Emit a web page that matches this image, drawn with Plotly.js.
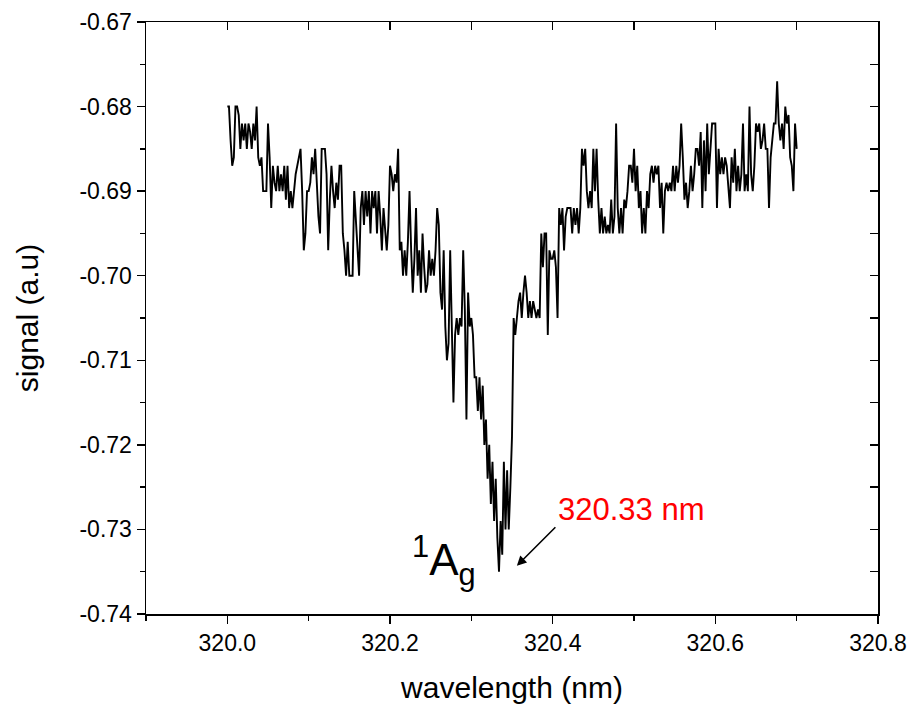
<!DOCTYPE html>
<html>
<head>
<meta charset="utf-8">
<script src="https://cdn.plot.ly/plotly-3.0.1.min.js"></script>
<style>html,body{margin:0;padding:0;background:#fff;}#chart{width:912px;height:706px;}</style>
</head>
<body>
<div id="chart"></div>
<script>
// wavelength grid (nm): start and step of the recorded scan
const wavelengthStart = 320.0;
const wavelengthStep = 0.002;

// signal (a.u.), one value per grid point
const signal = [
  -0.680, -0.680, -0.684, -0.687, -0.686, -0.680, -0.680, -0.681, -0.685, -0.682,
  -0.684, -0.682, -0.685, -0.682, -0.683, -0.685, -0.682, -0.684, -0.680, -0.686,
  -0.687, -0.686, -0.690, -0.690, -0.690, -0.682, -0.686, -0.692, -0.687, -0.689,
  -0.690, -0.687, -0.690, -0.688, -0.690, -0.687, -0.691, -0.687, -0.692, -0.690,
  -0.692, -0.690, -0.688, -0.687, -0.686, -0.685, -0.690, -0.697, -0.695, -0.690,
  -0.690, -0.689, -0.686, -0.688, -0.685, -0.690, -0.693, -0.695, -0.685, -0.685,
  -0.685, -0.688, -0.697, -0.691, -0.687, -0.690, -0.692, -0.689, -0.691, -0.687,
  -0.687, -0.695, -0.697, -0.700, -0.696, -0.700, -0.700, -0.700, -0.690, -0.693,
  -0.697, -0.700, -0.692, -0.690, -0.694, -0.690, -0.693, -0.690, -0.695, -0.690,
  -0.692, -0.690, -0.695, -0.690, -0.693, -0.697, -0.692, -0.695, -0.697, -0.694,
  -0.687, -0.688, -0.690, -0.688, -0.689, -0.685, -0.697, -0.696, -0.700, -0.697,
  -0.700, -0.696, -0.690, -0.697, -0.702, -0.698, -0.692, -0.700, -0.697, -0.702,
  -0.695, -0.699, -0.702, -0.701, -0.697, -0.700, -0.698, -0.700, -0.697, -0.692,
  -0.694, -0.702, -0.704, -0.697, -0.706, -0.710, -0.708, -0.697, -0.708, -0.715,
  -0.707, -0.705, -0.707, -0.705, -0.706, -0.697, -0.704, -0.717, -0.702, -0.706,
  -0.705, -0.707, -0.712, -0.712, -0.716, -0.712, -0.717, -0.713, -0.720, -0.717,
  -0.724, -0.720, -0.727, -0.722, -0.729, -0.724, -0.731, -0.735, -0.729, -0.733,
  -0.722, -0.730, -0.723, -0.730, -0.725, -0.719, -0.705, -0.707, -0.705, -0.703,
  -0.702, -0.705, -0.702, -0.700, -0.702, -0.705, -0.703, -0.705, -0.703, -0.704,
  -0.705, -0.704, -0.705, -0.695, -0.699, -0.695, -0.695, -0.707, -0.697, -0.698,
  -0.698, -0.697, -0.699, -0.705, -0.692, -0.694, -0.692, -0.697, -0.693, -0.692,
  -0.692, -0.692, -0.695, -0.692, -0.694, -0.692, -0.695, -0.692, -0.685, -0.687,
  -0.685, -0.690, -0.692, -0.690, -0.692, -0.685, -0.690, -0.685, -0.691, -0.695,
  -0.692, -0.695, -0.693, -0.695, -0.694, -0.695, -0.691, -0.695, -0.693, -0.682,
  -0.692, -0.695, -0.692, -0.695, -0.691, -0.692, -0.690, -0.687, -0.687, -0.689,
  -0.685, -0.690, -0.687, -0.692, -0.690, -0.695, -0.692, -0.695, -0.690, -0.692,
  -0.688, -0.687, -0.689, -0.687, -0.688, -0.687, -0.692, -0.689, -0.695, -0.690,
  -0.689, -0.690, -0.689, -0.690, -0.687, -0.690, -0.687, -0.689, -0.687, -0.682,
  -0.686, -0.691, -0.689, -0.692, -0.690, -0.687, -0.690, -0.688, -0.685, -0.685,
  -0.687, -0.683, -0.692, -0.684, -0.690, -0.682, -0.688, -0.685, -0.682, -0.682,
  -0.682, -0.692, -0.685, -0.688, -0.686, -0.688, -0.686, -0.687, -0.690, -0.692,
  -0.686, -0.689, -0.685, -0.690, -0.687, -0.690, -0.688, -0.682, -0.690, -0.688,
  -0.690, -0.680, -0.688, -0.690, -0.687, -0.682, -0.683, -0.682, -0.685, -0.684,
  -0.682, -0.685, -0.685, -0.692, -0.686, -0.684, -0.682, -0.682, -0.677, -0.682,
  -0.684, -0.682, -0.685, -0.680, -0.682, -0.681, -0.686, -0.687, -0.690, -0.682,
  -0.685
];

// axis settings
const xRange = [319.9, 320.8];
const yRange = [-0.74, -0.67];
const yTickValues = [-0.74, -0.73, -0.72, -0.71, -0.70, -0.69, -0.68, -0.67];
const yTickLabels = ['-0.74', '-0.73', '-0.72', '-0.71', '-0.70', '-0.69', '-0.68', '-0.67'];
const xTitle = 'wavelength (nm)';
const yTitle = 'signal (a.u)';

// annotations
const peakLabel = '320.33 nm';
const peakLabelPos = [320.497, -0.7277];
const arrowTip = [320.356, -0.7343];
const stateLabel = '<sup>1</sup>A<sub>g</sub>';
const stateLabelPos = [320.267, -0.7337];

const font = 'Liberation Sans, Arial, sans-serif';

const traces = [
  {
    type: 'scatter', mode: 'lines',
    x0: wavelengthStart, dx: wavelengthStep, y: signal,
    line: {color: '#000', width: 1.9},
    xaxis: 'x', yaxis: 'y', showlegend: false
  },
  {
    type: 'scatter', mode: 'lines', x: [], y: [],
    xaxis: 'x2', yaxis: 'y2', showlegend: false, hoverinfo: 'skip'
  }
];

const common = {
  showgrid: false, zeroline: false, showline: true,
  linecolor: '#000', linewidth: 1.5, tickcolor: '#000', tickwidth: 1.5
};

const layout = {
  width: 912, height: 706,
  margin: {l: 146, r: 34, t: 22, b: 92},
  paper_bgcolor: '#fff', plot_bgcolor: '#fff',
  font: {family: font, color: '#000'},
  showlegend: false,
  xaxis: Object.assign({}, common, {
    range: xRange, tick0: 320, dtick: 0.2, tickformat: '.1f',
    ticks: 'outside', ticklen: 8,
    minor: {ticks: 'outside', dtick: 0.1, ticklen: 5, tickcolor: '#000', tickwidth: 1.5, showgrid: false},
    tickfont: {family: font, size: 23, color: '#000'},
    title: {text: xTitle, font: {family: font, size: 30, color: '#000'}, standoff: 22}
  }),
  yaxis: Object.assign({}, common, {
    range: yRange, tickmode: 'array', tickvals: yTickValues, ticktext: yTickLabels,
    ticks: 'outside', ticklen: 8,
    minor: {ticks: 'outside', dtick: 0.005, ticklen: 5, tickcolor: '#000', tickwidth: 1.5, showgrid: false},
    tickfont: {family: font, size: 23, color: '#000'},
    title: {text: yTitle, font: {family: font, size: 30, color: '#000'}, standoff: 32}
  }),
  xaxis2: Object.assign({}, common, {
    overlaying: 'x', side: 'top', anchor: 'y2', range: xRange,
    tick0: 320, dtick: 0.1, ticks: 'inside', ticklen: 8, showticklabels: false
  }),
  yaxis2: Object.assign({}, common, {
    overlaying: 'y', side: 'right', anchor: 'x2', range: yRange,
    dtick: 0.005, ticks: 'inside', ticklen: 8, showticklabels: false
  }),
  annotations: [
    {
      x: peakLabelPos[0], y: peakLabelPos[1], xref: 'x', yref: 'y',
      text: peakLabel, showarrow: false,
      font: {family: font, size: 31, color: '#ff0000'}
    },
    {
      x: arrowTip[0], y: arrowTip[1], xref: 'x', yref: 'y',
      text: '', showarrow: true, ax: 40, ay: -40,
      arrowcolor: '#000', arrowwidth: 1.6, arrowhead: 2, arrowsize: 1.2
    },
    {
      x: stateLabelPos[0], y: stateLabelPos[1], xref: 'x', yref: 'y',
      text: stateLabel, showarrow: false,
      font: {family: font, size: 44, color: '#000'}
    }
  ]
};

Plotly.newPlot('chart', traces, layout, {staticPlot: true, displayModeBar: false});
</script>
</body>
</html>
